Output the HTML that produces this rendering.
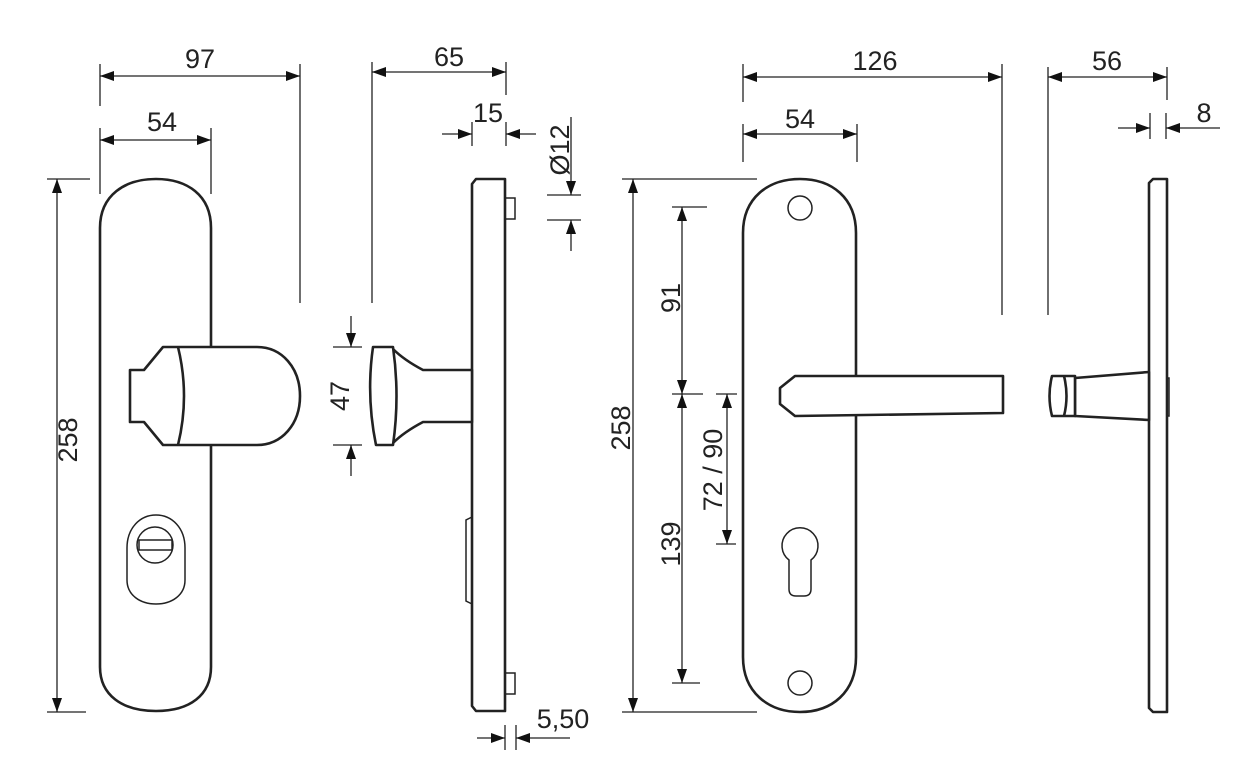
<!DOCTYPE html>
<html><head><meta charset="utf-8"><style>
html,body{margin:0;padding:0;background:#fff;}
svg{display:block;}
text{font-family:"Liberation Sans",sans-serif;font-size:27px;fill:#222;}
</style></head><body>
<svg width="1243" height="761" viewBox="0 0 1243 761" xmlns="http://www.w3.org/2000/svg">
<defs>
<marker id="a" viewBox="0 0 14 10" refX="14" refY="5" markerWidth="14" markerHeight="10" markerUnits="userSpaceOnUse" orient="auto-start-reverse"><path d="M0,0 L14,5 L0,10 z" fill="#111"/></marker>
</defs>
<g stroke="#222" stroke-width="1.3" fill="none">
<!-- left dims -->
<line x1="100" y1="64" x2="100" y2="106"/><line x1="300" y1="64" x2="300" y2="303"/>
<line x1="100" y1="76" x2="300" y2="76" marker-start="url(#a)" marker-end="url(#a)"/>
<line x1="100" y1="128" x2="100" y2="194"/><line x1="211" y1="128" x2="211" y2="194"/>
<line x1="100" y1="140" x2="211" y2="140" marker-start="url(#a)" marker-end="url(#a)"/>
<line x1="47" y1="179" x2="90" y2="179"/><line x1="47" y1="712" x2="86" y2="712"/>
<line x1="57" y1="179" x2="57" y2="712" marker-start="url(#a)" marker-end="url(#a)"/>
<line x1="372" y1="62" x2="372" y2="303"/><line x1="506" y1="62" x2="506" y2="95"/>
<line x1="372" y1="72" x2="506" y2="72" marker-start="url(#a)" marker-end="url(#a)"/>
<line x1="472" y1="122" x2="472" y2="146"/><line x1="506" y1="122" x2="506" y2="146"/>
<line x1="442" y1="134" x2="472" y2="134" marker-end="url(#a)"/>
<line x1="536" y1="134" x2="506" y2="134" marker-end="url(#a)"/>
<line x1="547" y1="195" x2="581" y2="195"/><line x1="547" y1="220" x2="581" y2="220"/>
<line x1="571" y1="117" x2="571" y2="195" marker-end="url(#a)"/>
<line x1="571" y1="251" x2="571" y2="220" marker-end="url(#a)"/>
<line x1="333" y1="347" x2="362" y2="347"/><line x1="333" y1="445" x2="362" y2="445"/>
<line x1="351" y1="316" x2="351" y2="347" marker-end="url(#a)"/>
<line x1="351" y1="476" x2="351" y2="445" marker-end="url(#a)"/>
<line x1="505" y1="725" x2="505" y2="750"/><line x1="516" y1="725" x2="516" y2="750"/>
<line x1="477" y1="738" x2="505" y2="738" marker-end="url(#a)"/>
<line x1="570" y1="738" x2="516" y2="738" marker-end="url(#a)"/>
<!-- right dims -->
<line x1="743" y1="64" x2="743" y2="102"/><line x1="1002" y1="64" x2="1002" y2="315"/>
<line x1="743" y1="77" x2="1002" y2="77" marker-start="url(#a)" marker-end="url(#a)"/>
<line x1="743" y1="124" x2="743" y2="162"/><line x1="857" y1="124" x2="857" y2="162"/>
<line x1="743" y1="134" x2="857" y2="134" marker-start="url(#a)" marker-end="url(#a)"/>
<line x1="622" y1="179" x2="757" y2="179"/><line x1="622" y1="712" x2="757" y2="712"/>
<line x1="633" y1="179" x2="633" y2="712" marker-start="url(#a)" marker-end="url(#a)"/>
<line x1="672" y1="207" x2="707" y2="207"/><line x1="672" y1="394" x2="703" y2="394"/><line x1="672" y1="683" x2="700" y2="683"/>
<line x1="682" y1="207" x2="682" y2="394" marker-start="url(#a)" marker-end="url(#a)"/>
<line x1="682" y1="394" x2="682" y2="683" marker-start="url(#a)" marker-end="url(#a)"/>
<line x1="716" y1="394" x2="737" y2="394"/><line x1="716" y1="544" x2="736" y2="544"/>
<line x1="727" y1="394" x2="727" y2="544" marker-start="url(#a)" marker-end="url(#a)"/>
<line x1="1048" y1="67" x2="1048" y2="315"/><line x1="1167" y1="67" x2="1167" y2="100"/>
<line x1="1048" y1="77" x2="1167" y2="77" marker-start="url(#a)" marker-end="url(#a)"/>
<line x1="1150" y1="113" x2="1150" y2="139"/><line x1="1166" y1="113" x2="1166" y2="139"/>
<line x1="1118" y1="128" x2="1150" y2="128" marker-end="url(#a)"/>
<line x1="1220" y1="128" x2="1166" y2="128" marker-end="url(#a)"/>
</g>
<g stroke="#222" stroke-width="2.6" fill="#fff" stroke-linejoin="round">
<!-- left plate -->
<path d="M100,228 C100,195 125,179 156,179 C187,179 211,195 211,228 L211,667 C211,695 190,711 156,711 C122,711 100,695 100,667 Z"/>
<!-- left knob -->
<path d="M130,370 L144,370 L163,347 L257,347 C282,347 300,368 300,396 C300,424 282,445 257,445 L163,445 L144,422 L130,422 Z"/>
<path d="M178,347 Q190,396 178,445" fill="none"/>
<!-- side view left -->
<path d="M476,179 L505,179 L505,711 L476,711 L472,706 L472,184 Z"/>
<path d="M393,349 Q404,360 423,370 L472,370 L472,422 L423,422 Q404,432 393,443 Z"/>
<path d="M373,347 L393,347 Q400,396 393,445 L376,445 Q366,396 373,347 Z"/>
<!-- right plate -->
<path d="M743,233 C743,198 768,179 800,179 C832,179 856,198 856,233 L856,657 C856,692 832,712 800,712 C768,712 743,692 743,657 Z"/>
<path d="M795,376 L1003,376 L1003,413 L795,416 L780,404 L780,388 Z"/>
<!-- right side -->
<path d="M1153,179 L1167,179 L1167,712 L1153,712 L1149,708 L1149,183 Z"/>
<path d="M1075,378 L1149,372 L1149,420 L1075,416 Z"/>
<path d="M1052,376 L1075,376 L1075,416 L1052,416 Q1047,396 1052,376 Z"/>
<path d="M1064,376 Q1069,396 1064,416" fill="none"/>
</g>
<g stroke="#222" stroke-width="1.5" fill="none">
<rect x="505" y="198" width="10" height="21"/>
<rect x="505" y="673" width="10" height="21"/>
<path d="M472,517 L466,520 L466,601 L472,604"/>
<path d="M156,515 C172,515 185,528 185,548 L185,580 C185,595 172,604 156,604 C140,604 127,595 127,580 L127,548 C127,528 140,515 156,515 Z"/>
<circle cx="155" cy="545" r="18"/>
<rect x="139" y="540" width="33" height="10"/>
<circle cx="800" cy="208" r="12"/>
<circle cx="800" cy="683" r="12"/>
<path d="M789,560 A18,18 0 1 1 811,560 L811,589 Q811,596 804,596 L796,596 Q789,596 789,589 Z"/>
<path d="M1167,378 L1169,378 L1169,416 L1167,416"/>
</g>
<g>
<text x="200" y="68" text-anchor="middle">97</text>
<text x="162" y="131" text-anchor="middle">54</text>
<text transform="translate(77,440) rotate(-90)" text-anchor="middle">258</text>
<text x="449" y="66" text-anchor="middle">65</text>
<text x="488" y="122" text-anchor="middle">15</text>
<text transform="translate(569,150) rotate(-90)" text-anchor="middle">Ø12</text>
<text transform="translate(349,396) rotate(-90)" text-anchor="middle">47</text>
<text x="563" y="728" text-anchor="middle">5,50</text>
<text x="875" y="70" text-anchor="middle">126</text>
<text x="800" y="128" text-anchor="middle">54</text>
<text transform="translate(630,428) rotate(-90)" text-anchor="middle">258</text>
<text transform="translate(680,298) rotate(-90)" text-anchor="middle">91</text>
<text transform="translate(680,544) rotate(-90)" text-anchor="middle">139</text>
<text transform="translate(722,470) rotate(-90)" text-anchor="middle">72 / 90</text>
<text x="1107" y="70" text-anchor="middle">56</text>
<text x="1204" y="122" text-anchor="middle">8</text>
</g>
</svg>
</body></html>
